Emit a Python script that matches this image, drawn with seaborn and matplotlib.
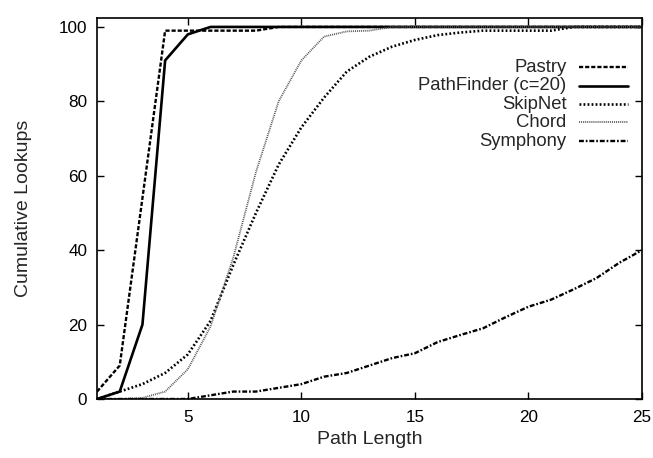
import matplotlib
matplotlib.use("Agg")
import matplotlib.pyplot as plt
from matplotlib.lines import Line2D
import seaborn as sns
import pandas as pd

path_length = list(range(1, 26))
pastry = [2, 9, 54, 99, 99, 99, 99, 99, 100, 100, 100, 100, 100, 100, 100, 100, 100, 100, 100, 100, 100, 100, 100, 100, 100]
pathfinder = [0, 2, 20, 91, 98, 100, 100, 100, 100, 100, 100, 100, 100, 100, 100, 100, 100, 100, 100, 100, 100, 100, 100, 100, 100]
skipnet = [0, 2, 4, 7, 12, 21, 36, 50, 63, 73, 81, 88, 92, 94.7, 96.5, 97.8, 98.5, 99, 99, 99, 99, 100, 100, 100, 100]
chord = [0, 0, 0.3, 2, 8, 19.5, 38, 61, 80, 91, 97.4, 98.8, 99, 100, 100, 100, 100, 100, 100, 100, 100, 100, 100, 100, 100]
symphony = [0, 0, 0, 0, 0, 1, 2, 2, 3, 4, 6, 7, 9, 11, 12.3, 15.3, 17.2, 19, 22, 24.8, 26.7, 29.5, 32.5, 36.6, 40]
series_names = ["Pastry", "PathFinder (c=20)", "SkipNet", "Chord", "Symphony"]
x_ticks = [5, 10, 15, 20, 25]
y_ticks = [0, 20, 40, 60, 80, 100]

sns.set_style("ticks")
plt.rcParams["font.family"] = ["Liberation Sans", "DejaVu Sans"]
plt.rcParams["lines.scale_dashes"] = False

fig = plt.figure(figsize=(6.53, 4.58), dpi=100)
ax = fig.add_axes([0.1486, 0.1288, 0.8344, 0.8319])

values = [pastry, pathfinder, skipnet, chord, symphony]
styles = [
    dict(color="black", lw=1.7, dashes=(3.0, 1.4)),
    dict(color="black", lw=1.9, dashes=None),
    dict(color="black", lw=1.9, dashes=(1.3, 1.6)),
    dict(color="#555555", lw=1.3, dashes=(0.7, 0.7)),
    dict(color="black", lw=1.7, dashes=(3.5, 1.4, 1.2, 1.4)),
]
for name, vals, st in zip(series_names, values, styles):
    df = pd.DataFrame({"x": path_length, "y": vals})
    sns.lineplot(data=df, x="x", y="y", ax=ax, color=st["color"], lw=st["lw"], legend=False)
    if st["dashes"] is not None:
        ax.lines[-1].set_dashes(st["dashes"])

ax.set_xlim(1, 25)
ax.set_ylim(0, 102.4)
ax.set_xticks(x_ticks)
ax.set_yticks(y_ticks)
ax.tick_params(direction="in", top=True, right=True, length=5, width=1, labelsize=12.3, colors="black")
ax.tick_params(axis="x", pad=8)
ax.tick_params(axis="y", pad=7)
for s in ax.spines.values():
    s.set_linewidth(1.2)
    s.set_color("black")
ax.set_xlabel("Path Length", fontsize=14, labelpad=4)
ax.set_ylabel("Cumulative Lookups", fontsize=14, labelpad=19)

# gnuplot-style key: right-aligned labels, samples to the right
text_x = 0.862
line_x0, line_x1 = 0.884, 0.974
row_y = [0.871, 0.822, 0.774, 0.727, 0.677]
for name, st, yy in zip(series_names, styles, row_y):
    ax.text(text_x, yy, name, transform=ax.transAxes, ha="right", va="center", fontsize=13.3)
    ln = Line2D([line_x0, line_x1], [yy, yy], transform=ax.transAxes, color=st["color"], lw=st["lw"])
    if st["dashes"] is not None:
        ln.set_dashes(st["dashes"])
    ax.add_line(ln)

fig.savefig("out.png", dpi=100)
